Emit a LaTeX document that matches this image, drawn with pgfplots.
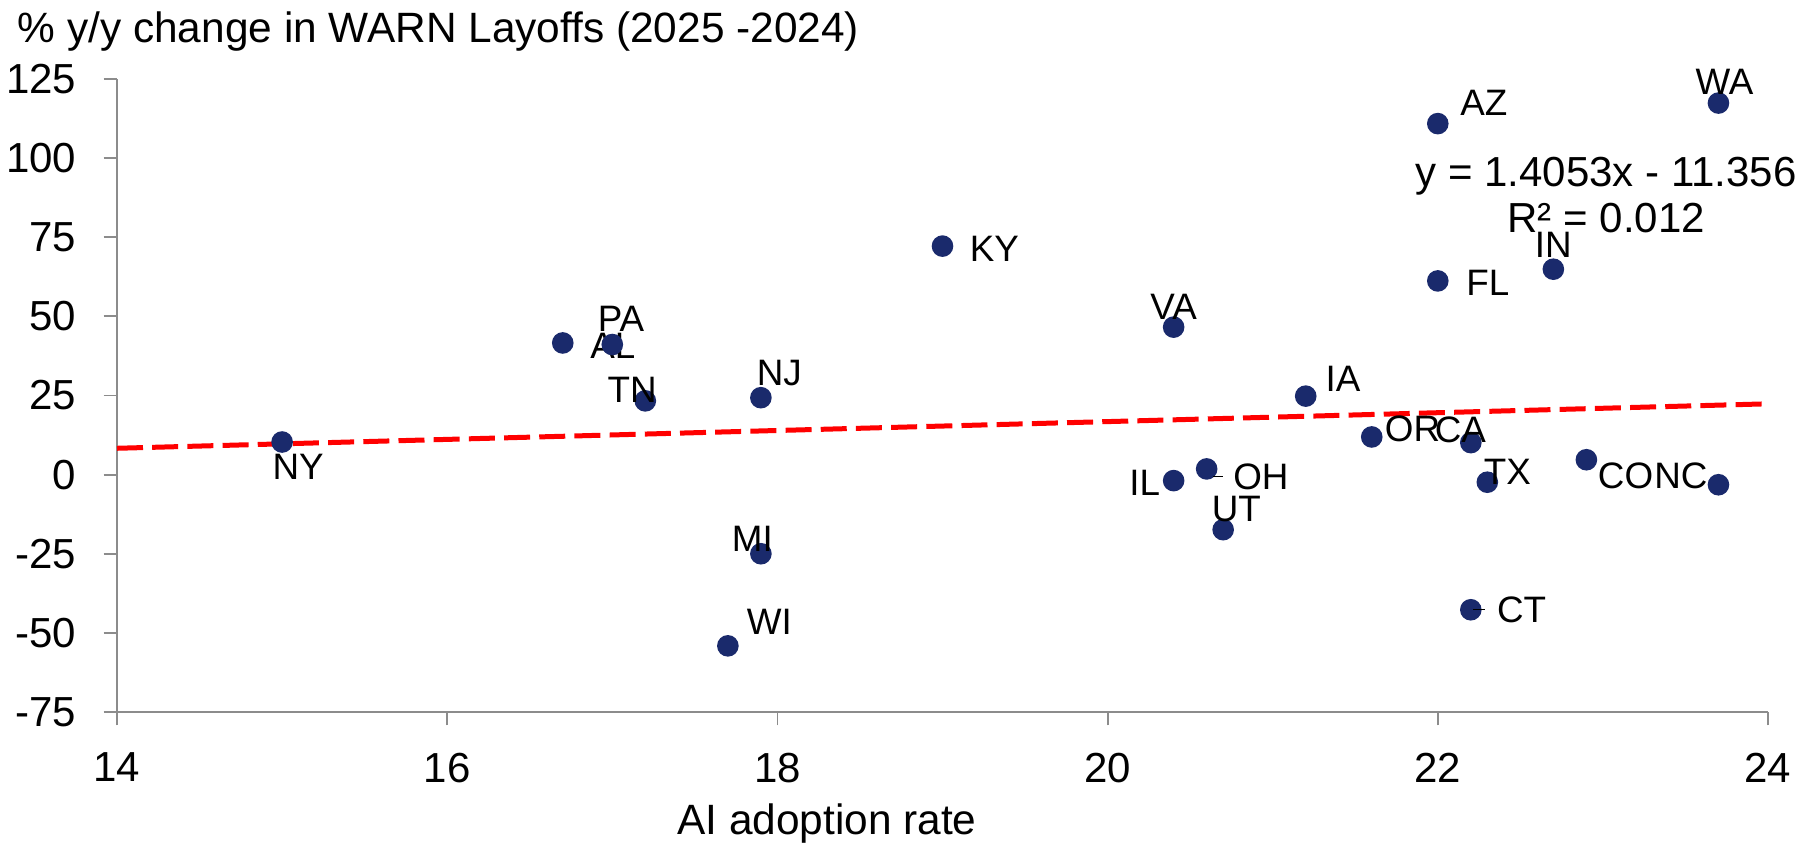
\documentclass[border=0pt]{standalone}
\usepackage{pgfplots}
\usepackage{pgfplotstable}
\pgfplotsset{compat=1.18}
\usepackage{fontspec}
\setmainfont{Liberation Sans}
\definecolor{navy}{HTML}{1A2A6C}
\definecolor{axgray}{HTML}{8C8C8C}

\pgfplotstableread{
x y lab dx dy
15.0 10.3 NY 4 -6.2
16.7 41.6 AL 12.5 -0.8
17.0 41.1 PA 2.2 6.5
17.2 23.3 TN -3.3 2.75
17.9 24.3 NJ 4.6 6.1
17.9 -25.0 MI -2.15 3.75
17.7 -54.1 WI 10.4 6.1
19.0 72.2 KY 13 -0.6
20.4 46.6 VA 0 5
22.0 110.9 AZ 11.5 5.2
23.7 117.4 WA 1.5 5.2
22.0 61.2 FL 12.5 -0.6
22.7 64.9 IN 0 6
21.2 24.8 IA 9.3 4.4
21.6 11.9 OR 10.2 2
22.2 10.1 CA -2.6 3.2
20.4 -1.9 IL -7.2 -0.6
20.6 1.8 {\rule[0.33em]{2.6pt}{0.4pt}\hspace{2.5pt}OH} 11 -2
20.7 -17.4 UT 3.3 5.2
22.3 -2.4 TX 5 2.6
22.9 4.7 CO 9.8 -4
23.7 -3.2 NC -9.4 2.2
22.2 -42.7 {\rule[0.33em]{3pt}{0.4pt}\hspace{3pt}CT} 9.7 0
}\statedata

\begin{document}
\begin{tikzpicture}
\begin{axis}[
  name=ax,
  scale only axis,
  width=412.75pt, height=158.25pt,
  xmin=14, xmax=24, ymin=-75, ymax=125,
  clip=false,
  axis lines*=left,
  axis line style={axgray, line width=0.45pt},
  every tick/.style={axgray, line width=0.45pt},
  tick align=outside,
  major tick length=3.35pt,
  xtick={14,16,18,20,22,24},
  xticklabels={14,16,18,20,22,24},
  ytick={-75,-50,-25,0,25,50,75,100,125},
  yticklabels={-75,-50,-25,0,25,50,75,100,125},
  ticklabel style={font=\fontsize{10.5}{12}\selectfont, inner sep=0pt},
  xticklabel style={anchor=north},
  yticklabel style={anchor=east},
  xticklabel shift=6.65pt,
  yticklabel shift=6.65pt,
]
\addplot[red, line width=1.25pt, dash pattern=on 6.5pt off 2.3pt, forget plot]
  coordinates {(14,8.32) (24,22.37)};
\addplot[
  only marks,
  mark=*,
  mark size=2.5pt,
  mark options={draw=navy, fill=navy},
  point meta=explicit symbolic,
  visualization depends on={\thisrow{dx} \as \dx},
  visualization depends on={\thisrow{dy} \as \dy},
  nodes near coords,
  nodes near coords style={anchor=center, inner sep=0pt, text=black,
    font=\fontsize{9.2}{11}\selectfont, xshift=\dx pt, yshift=\dy pt},
] table[x=x, y=y, meta=lab] {\statedata};

\node[anchor=base west, inner sep=0pt, font=\fontsize{10.6}{12}\selectfont]
  at (rel axis cs:-0.0606,1.057) {\% y/y change in WARN Layoffs (2025 -2024)};
\node[anchor=base, inner sep=0pt, font=\fontsize{10.6}{12}\selectfont]
  at (rel axis cs:0.43,-0.194) {AI adoption rate};
\node[anchor=base, inner sep=0pt, font=\fontsize{10.5}{12}\selectfont]
  at (axis cs:23.02,91) {y = 1.4053x - 11.356};
\node[anchor=base, inner sep=0pt, font=\fontsize{10.5}{12}\selectfont]
  at (axis cs:23.02,76.5) {R² = 0.012};
\end{axis}
\pgfresetboundingbox
\path (ax.south west) ++(-29.25pt,-33pt) rectangle ++(453.5pt,211pt);
\end{tikzpicture}
\end{document}
